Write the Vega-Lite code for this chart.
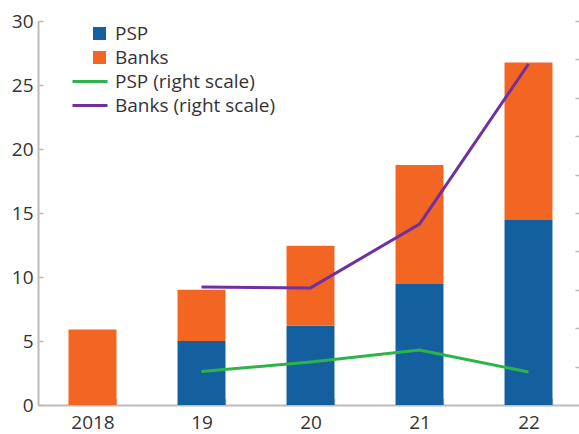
{
  "$schema": "https://vega.github.io/schema/vega-lite/v6.json",
  "width": 541,
  "height": 384,
  "autosize": "none",
  "padding": {"left": 38, "top": 21, "right": 0, "bottom": 29},
  "config": {
    "font": "Open Sans",
    "view": {"stroke": null},
    "axis": {"grid": false, "domainColor": "#bbbbbb", "tickColor": "#bbbbbb", "labelColor": "#333333", "labelFontSize": 19, "domainWidth": 2, "tickWidth": 1.5, "title": null}
  },
  "datasets": {
    "bars": [
      {"year": "2018", "series": "PSP", "value": 0, "ord": 1},
      {"year": "2018", "series": "Banks", "value": 5.9, "ord": 2},
      {"year": "19", "series": "PSP", "value": 5.0, "ord": 1},
      {"year": "19", "series": "Banks", "value": 4.0, "ord": 2},
      {"year": "20", "series": "PSP", "value": 6.2, "ord": 1},
      {"year": "20", "series": "Banks", "value": 6.25, "ord": 2},
      {"year": "21", "series": "PSP", "value": 9.45, "ord": 1},
      {"year": "21", "series": "Banks", "value": 9.3, "ord": 2},
      {"year": "22", "series": "PSP", "value": 14.45, "ord": 1},
      {"year": "22", "series": "Banks", "value": 12.3, "ord": 2}
    ],
    "lines": [
      {"year": "19", "series": "PSP (right scale)", "value": 8.7},
      {"year": "20", "series": "PSP (right scale)", "value": 11.2},
      {"year": "21", "series": "PSP (right scale)", "value": 14.3},
      {"year": "22", "series": "PSP (right scale)", "value": 8.6},
      {"year": "19", "series": "Banks (right scale)", "value": 30.7},
      {"year": "20", "series": "Banks (right scale)", "value": 30.5},
      {"year": "21", "series": "Banks (right scale)", "value": 47.1},
      {"year": "22", "series": "Banks (right scale)", "value": 88.8}
    ]
  },
  "layer": [
    {
      "data": {"name": "bars"},
      "mark": {"type": "bar"},
      "encoding": {
        "x": {
          "field": "year", "type": "nominal", "sort": null,
          "scale": {"domain": ["2018", "19", "20", "21", "22"], "range": [0, 545], "paddingInner": 0.56, "paddingOuter": 0.28},
          "axis": {"labelAngle": 0, "tickBand": "extent", "tickSize": -7, "labelPadding": 15}
        },
        "y": {
          "field": "value", "type": "quantitative", "stack": "zero",
          "scale": {"domain": [0, 30]},
          "axis": {"values": [0, 5, 10, 15, 20, 25, 30], "tickSize": -5, "labelPadding": 10}
        },
        "color": {
          "field": "series", "type": "nominal",
          "scale": {"domain": ["PSP", "Banks"], "range": ["#14609f", "#f26522"]},
          "legend": {"orient": "none", "legendX": 52, "legendY": 3, "title": null, "padding": 0, "symbolType": "square", "symbolSize": 169, "symbolStrokeWidth": 0, "labelFontSize": 19, "labelLimit": 400, "labelColor": "#333333", "labelOffset": 6, "rowPadding": 4}
        },
        "order": {"field": "ord", "type": "quantitative"}
      }
    },
    {
      "data": {"name": "lines"},
      "mark": {"type": "line", "strokeWidth": 3},
      "encoding": {
        "x": {"field": "year", "type": "nominal", "sort": null},
        "y": {
          "field": "value", "type": "quantitative",
          "scale": {"domain": [0, 100]},
          "axis": {"orient": "right", "labels": false, "domain": false, "tickSize": -4, "values": [10, 20, 30, 40, 50, 60, 70, 80, 90, 100]}
        },
        "stroke": {
          "field": "series", "type": "nominal",
          "scale": {"domain": ["PSP (right scale)", "Banks (right scale)"], "range": ["#2db34a", "#7030a0"]},
          "legend": {"orient": "none", "legendX": 53, "legendY": 51, "title": null, "padding": 0, "symbolType": "M-4,0H1", "symbolSize": 196, "symbolStrokeWidth": 3, "labelFontSize": 19, "labelLimit": 400, "labelColor": "#333333", "labelOffset": 5, "rowPadding": 4}
        }
      }
    }
  ],
  "resolve": {"scale": {"y": "independent"}}
}
